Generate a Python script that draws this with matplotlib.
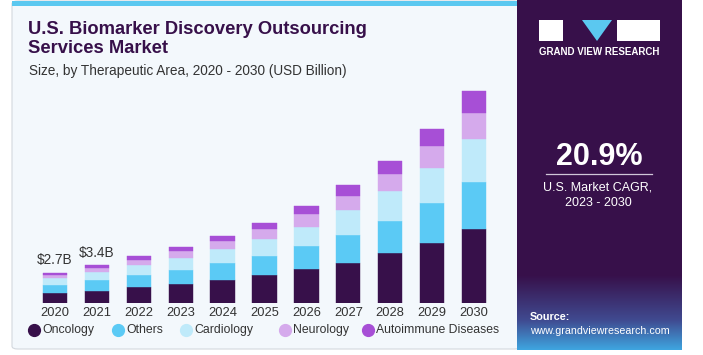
import numpy as np
import matplotlib.pyplot as plt
from matplotlib.patches import Rectangle, FancyBboxPatch, Polygon
from matplotlib.lines import Line2D

plt.rcParams["font.family"] = ["Liberation Sans", "DejaVu Sans"]

W, H = 703, 355

years = ["2020", "2021", "2022", "2023", "2024", "2025", "2026", "2027", "2028", "2029", "2030"]
oncology = [0.89, 1.07, 1.40, 1.72, 2.08, 2.46, 3.02, 3.56, 4.42, 5.37, 6.61]
others = [0.71, 0.98, 1.07, 1.18, 1.48, 1.75, 2.02, 2.49, 2.87, 3.56, 4.18]
cardiology = [0.60, 0.68, 0.89, 1.09, 1.22, 1.51, 1.75, 2.20, 2.64, 3.05, 3.76]
neurology = [0.33, 0.38, 0.47, 0.60, 0.77, 0.89, 1.12, 1.27, 1.54, 1.98, 2.34]
autoimmune = [0.18, 0.24, 0.36, 0.38, 0.44, 0.53, 0.75, 1.01, 1.19, 1.51, 1.96]
total_labels = ["$2.7B", "$3.4B"]

series = [
    ("Oncology", oncology, "#37104a"),
    ("Others", others, "#5bcaf5"),
    ("Cardiology", cardiology, "#bfeafa"),
    ("Neurology", neurology, "#d5aaec"),
    ("Autoimmune Diseases", autoimmune, "#a74fd6"),
]
legend_x = [34, 118, 186, 285, 368]  # marker centres, px


def fx(x):
    return x / W


def fy(y):
    return 1 - y / H


fig = plt.figure(figsize=(W / 100, H / 100), dpi=100)
fig.patch.set_facecolor("white")

# left card
fig.patches.append(FancyBboxPatch((fx(12), fy(349)), fx(520 - 12), (349 - 1) / H,
                                  boxstyle="round,pad=0,rounding_size=0.008",
                                  transform=fig.transFigure, facecolor="#f3f8fc",
                                  edgecolor="#d3d8de", lw=0.8, zorder=-2))
fig.patches.append(Rectangle((fx(12), fy(6)), fx(517 - 12), 5 / H,
                             transform=fig.transFigure, facecolor="#5bc8f0",
                             edgecolor="none", zorder=-1))

# right panel with bottom gradient
pax = fig.add_axes([fx(517), fy(350), fx(682 - 517), 350 / H])
pax.set_zorder(-1)
pax.set_xlim(0, 1)
pax.set_ylim(0, 350)
pax.axis("off")
top = np.array([0x37, 0x10, 0x4a]) / 255
mid = np.array([0x40, 0x4a, 0x90]) / 255
bot = np.array([0x3e, 0xa6, 0xe0]) / 255
n = 200
grad = np.zeros((n, 1, 3))
for i in range(n):
    t = i / (n - 1)  # 0 bottom, 1 top
    if t < 0.4:
        c = bot + (mid - bot) * (t / 0.4)
    else:
        c = mid + (top - mid) * min(1, (t - 0.4) / 0.6)
    grad[i, 0] = c
pax.imshow(grad, extent=[0, 1, 0, 75], origin="lower", aspect="auto")
pax.add_patch(Rectangle((0, 75), 1, 275, facecolor="#37104a", edgecolor="none"))

# logo
fig.patches.append(Rectangle((fx(539), fy(41)), fx(24), 21 / H, transform=fig.transFigure,
                             facecolor="white", edgecolor="none", zorder=3))
fig.patches.append(Rectangle((fx(617), fy(41)), fx(43), 21 / H, transform=fig.transFigure,
                             facecolor="white", edgecolor="none", zorder=3))
fig.patches.append(Polygon([(fx(582), fy(20)), (fx(612), fy(20)), (fx(597), fy(41))],
                           closed=True, transform=fig.transFigure,
                           facecolor="#5bc8f0", edgecolor="none", zorder=3))
fig.text(fx(599.5), fy(52), "GRAND VIEW RESEARCH", color="white", fontsize=7,
         fontweight="bold", ha="center", va="center")

fig.text(fx(599), fy(157), "20.9%", color="white", fontsize=22, fontweight="bold",
         ha="center", va="center")
fig.add_artist(Line2D([fx(546), fx(652)], [fy(174), fy(174)], color="#cfc6d8", lw=0.9))
fig.text(fx(598), fy(187), "U.S. Market CAGR,", color="white", fontsize=9,
         ha="center", va="center")
fig.text(fx(598), fy(203), "2023 - 2030", color="white", fontsize=9,
         ha="center", va="center")
fig.text(fx(530), fy(317), "Source:", color="white", fontsize=7.8, fontweight="bold",
         ha="left", va="center")
fig.text(fx(530), fy(331), "www.grandviewresearch.com", color="white", fontsize=7.7,
         ha="left", va="center")

# title
fig.text(fx(28), fy(21), "U.S. Biomarker Discovery Outsourcing\nServices Market",
         color="#37104a", fontsize=13.2, fontweight="bold", ha="left", va="top",
         linespacing=1.12)
fig.text(fx(29), fy(71), "Size, by Therapeutic Area, 2020 - 2030 (USD Billion)",
         color="#333333", fontsize=9.8, ha="left", va="center")

# bars
x0, x1 = 29, 500
base, ytop = 303, 85
ax = fig.add_axes([fx(x0), fy(base), fx(x1 - x0), (base - ytop) / H])
ax.set_facecolor("none")
x = np.arange(len(years))
bottom = np.zeros(len(years))
for name, vals, col in series:
    ax.bar(x, vals, width=0.58, bottom=bottom, color=col, label=name,
           edgecolor=col, linewidth=0.3, zorder=2)
    bottom += np.array(vals)
for i, lab in enumerate(total_labels):
    ax.text(x[i], bottom[i] + 0.45, lab, ha="center", va="bottom", fontsize=9.8,
            color="#333333")
ax.set_xlim(-0.62, 10.62)
ax.set_ylim(0, (base - ytop) / 11.25)
ax.set_xticks(x)
ax.set_xticklabels(years, fontsize=9.3, color="#333333")
ax.tick_params(axis="x", length=0, pad=3)
ax.set_yticks([])
for s in ax.spines.values():
    s.set_visible(False)

# legend
for (name, _, col), lx in zip(series, legend_x):
    fig.add_artist(Line2D([fx(lx)], [fy(330)], marker="o", linestyle="none",
                          markersize=8.5, markerfacecolor=col, markeredgecolor=col))
    fig.text(fx(lx + 8), fy(330), name, ha="left", va="center", fontsize=8.8,
             color="#333333")

fig.savefig("out.png", dpi=100)
